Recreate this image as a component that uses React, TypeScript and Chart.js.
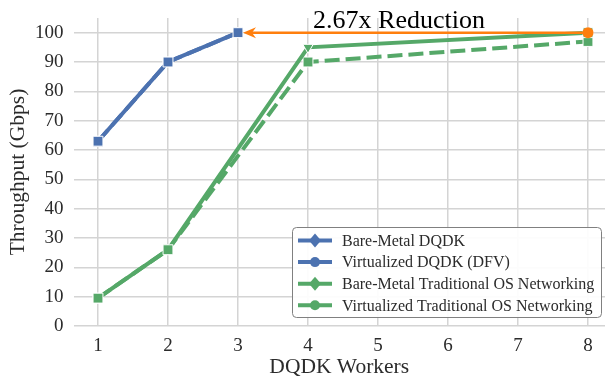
import React, { useEffect, useRef } from 'react';
import { Chart, registerables } from 'chart.js';

Chart.register(...registerables);

// ---- data ----
const workers = [1, 2, 3, 4, 5, 6, 7, 8];
const yTicks = [0, 10, 20, 30, 40, 50, 60, 70, 80, 90, 100];

const dqdkWorkers = [1, 2, 3];
const bareMetalDqdk = [63, 90, 100];
const virtualizedDqdk = [63, 90, 100];

const tradWorkers = [1, 2, 4, 8];
const bareMetalTrad = [9.5, 26, 95, 100];
const virtualizedTrad = [9.5, 26, 90, 97];

const seriesLabels = [
  'Bare-Metal DQDK',
  'Virtualized DQDK (DFV)',
  'Bare-Metal Traditional OS Networking',
  'Virtualized Traditional OS Networking',
];

const reductionLabel = '2.67x Reduction';
const reductionFrom = { x: 8, y: 100 };
const reductionTo = { x: 3, y: 100 };
const reductionTextPos = { x: 5.3, y: 101.6 };

// ---- styles ----
const BLUE = '#4C72B0';
const GREEN = '#55A868';
const ORANGE = '#FF7F0E';
const TEXT = '#2b2b2b';
const FONT = "'Liberation Serif', 'Times New Roman', serif";
const DASH = [15, 6];

const toPoints = (xs: number[], ys: number[]) => xs.map((x, i) => ({ x, y: ys[i] }));

const annotationPlugin = {
  id: 'reductionArrow',
  afterDatasetsDraw(chart: any) {
    const { ctx, scales } = chart;
    const xs = scales.x;
    const ys = scales.y;
    const x1 = xs.getPixelForValue(reductionFrom.x);
    const y1 = ys.getPixelForValue(reductionFrom.y);
    const tipX = xs.getPixelForValue(reductionTo.x) + 5;
    const tipY = ys.getPixelForValue(reductionTo.y);
    ctx.save();
    ctx.strokeStyle = ORANGE;
    ctx.fillStyle = ORANGE;
    ctx.lineWidth = 2.5;
    ctx.beginPath();
    ctx.moveTo(x1, y1);
    ctx.lineTo(tipX + 8, tipY);
    ctx.stroke();
    ctx.beginPath();
    ctx.moveTo(tipX, tipY);
    ctx.lineTo(tipX + 13, tipY - 5.5);
    ctx.lineTo(tipX + 9, tipY);
    ctx.lineTo(tipX + 13, tipY + 5.5);
    ctx.closePath();
    ctx.fill();
    ctx.beginPath();
    ctx.arc(x1, y1, 5.5, 0, Math.PI * 2);
    ctx.fill();
    ctx.fillStyle = '#000';
    ctx.font = `26px ${FONT}`;
    ctx.textAlign = 'center';
    ctx.textBaseline = 'alphabetic';
    ctx.fillText(
      reductionLabel,
      xs.getPixelForValue(reductionTextPos.x),
      ys.getPixelForValue(reductionTextPos.y)
    );
    ctx.restore();
  },
};

const legendPlugin = {
  id: 'customLegend',
  afterDraw(chart: any) {
    const { ctx } = chart;
    const bx = 292.5, by = 227.5, bw = 309, bh = 90, r = 4;
    ctx.save();
    ctx.beginPath();
    ctx.moveTo(bx + r, by);
    ctx.lineTo(bx + bw - r, by);
    ctx.quadraticCurveTo(bx + bw, by, bx + bw, by + r);
    ctx.lineTo(bx + bw, by + bh - r);
    ctx.quadraticCurveTo(bx + bw, by + bh, bx + bw - r, by + bh);
    ctx.lineTo(bx + r, by + bh);
    ctx.quadraticCurveTo(bx, by + bh, bx, by + bh - r);
    ctx.lineTo(bx, by + r);
    ctx.quadraticCurveTo(bx, by, bx + r, by);
    ctx.closePath();
    ctx.fillStyle = 'rgba(255,255,255,0.92)';
    ctx.fill();
    ctx.strokeStyle = '#808080';
    ctx.lineWidth = 1;
    ctx.stroke();

    const colors = [BLUE, BLUE, GREEN, GREEN];
    seriesLabels.forEach((label, i) => {
      const cy = 240.5 + i * 21.6;
      const dashed = i % 2 === 1;
      ctx.strokeStyle = colors[i];
      ctx.fillStyle = colors[i];
      ctx.lineWidth = 4;
      ctx.setLineDash(dashed ? DASH : []);
      ctx.beginPath();
      ctx.moveTo(298, cy);
      ctx.lineTo(332, cy);
      ctx.stroke();
      ctx.setLineDash([]);
      ctx.beginPath();
      if (dashed) {
        ctx.arc(315, cy, 5, 0, Math.PI * 2);
      } else {
        ctx.moveTo(315, cy - 7);
        ctx.lineTo(321, cy);
        ctx.lineTo(315, cy + 7);
        ctx.lineTo(309, cy);
        ctx.closePath();
      }
      ctx.fill();
      ctx.fillStyle = TEXT;
      ctx.font = `16px ${FONT}`;
      ctx.textAlign = 'left';
      ctx.textBaseline = 'middle';
      ctx.fillText(label, 342, cy + 1);
    });
    ctx.restore();
  },
};

export default function App() {
  const canvasRef = useRef<HTMLCanvasElement | null>(null);

  useEffect(() => {
    if (!canvasRef.current) return;
    const chart = new Chart(canvasRef.current, {
      type: 'line',
      data: {
        datasets: [
          {
            label: seriesLabels[0],
            data: toPoints(dqdkWorkers, bareMetalDqdk),
            borderColor: BLUE,
            backgroundColor: BLUE,
            borderWidth: 4,
            pointStyle: 'rect',
            pointRadius: 7,
            pointBorderColor: '#fff',
            pointBorderWidth: 1,
            tension: 0,
          },
          {
            label: seriesLabels[1],
            data: toPoints(dqdkWorkers, virtualizedDqdk),
            borderColor: BLUE,
            backgroundColor: BLUE,
            borderWidth: 4,
            borderDash: DASH,
            pointStyle: 'rect',
            pointRadius: 7,
            pointBorderColor: '#fff',
            pointBorderWidth: 1,
            tension: 0,
          },
          {
            label: seriesLabels[2],
            data: toPoints(tradWorkers, bareMetalTrad),
            borderColor: GREEN,
            backgroundColor: GREEN,
            borderWidth: 4,
            pointStyle: ['rect', 'rect', 'triangle', 'rect'],
            pointRotation: [0, 0, 180, 0],
            pointRadius: [7, 7, 6, 7],
            pointBorderColor: '#fff',
            pointBorderWidth: 1,
            tension: 0,
          },
          {
            label: seriesLabels[3],
            data: toPoints(tradWorkers, virtualizedTrad),
            borderColor: GREEN,
            backgroundColor: GREEN,
            borderWidth: 4,
            borderDash: DASH,
            pointStyle: 'rect',
            pointRadius: 7,
            pointBorderColor: '#fff',
            pointBorderWidth: 1,
            tension: 0,
          },
        ],
      },
      options: {
        animation: false,
        responsive: false,
        maintainAspectRatio: false,
        layout: { autoPadding: false, padding: { top: 18, left: 0, right: 0, bottom: 0 } },
        plugins: {
          legend: { display: false },
          tooltip: { enabled: false },
        },
        scales: {
          x: {
            type: 'linear',
            min: 0.65,
            max: 8.243,
            afterFit: (s: any) => {
              s.height = 54;
              s.paddingLeft = 0;
              s.paddingRight = 0;
            },
            afterBuildTicks: (s: any) => {
              s.ticks = workers.map((v) => ({ value: v }));
            },
            border: { display: false },
            grid: { color: '#d4d4d4', lineWidth: 1.5, drawTicks: false },
            ticks: {
              padding: 9,
              color: TEXT,
              font: { family: FONT, size: 19 },
              callback: (v: any) => String(v),
              maxRotation: 0,
              autoSkip: false,
            },
            title: {
              display: true,
              text: 'DQDK Workers',
              color: TEXT,
              font: { family: FONT, size: 21.5 },
              padding: { top: 0, bottom: 0 },
            },
          },
          y: {
            type: 'linear',
            min: 0,
            max: 105,
            afterFit: (s: any) => {
              s.width = 73.5;
              s.paddingTop = 0;
              s.paddingBottom = 0;
            },
            afterBuildTicks: (s: any) => {
              s.ticks = yTicks.map((v) => ({ value: v }));
            },
            border: { display: false },
            grid: { color: '#d4d4d4', lineWidth: 1.5, drawTicks: false },
            ticks: {
              padding: 10,
              color: TEXT,
              font: { family: FONT, size: 19 },
              callback: (v: any) => String(v),
              autoSkip: false,
            },
            title: {
              display: true,
              text: 'Throughput (Gbps)',
              color: TEXT,
              font: { family: FONT, size: 21.5 },
              padding: { top: 5, bottom: 0 },
            },
          },
        },
      },
      plugins: [annotationPlugin, legendPlugin],
    });
    return () => chart.destroy();
  }, []);

  return (
    <div style={{ position: 'absolute', left: 0, top: 0, width: 605, height: 380, background: '#fff' }}>
      <canvas ref={canvasRef} width={605} height={380} />
    </div>
  );
}
